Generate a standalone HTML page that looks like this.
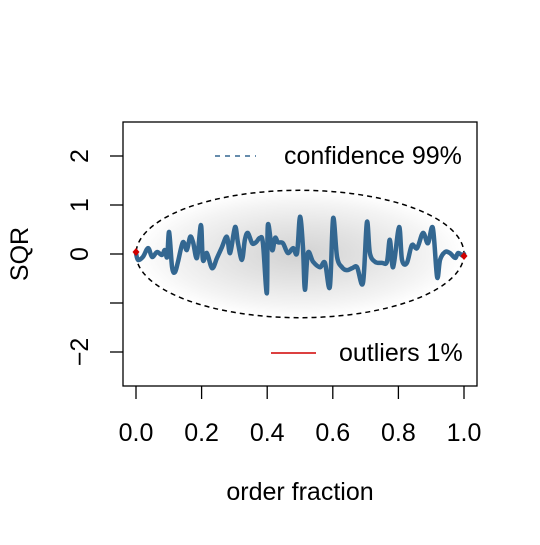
<!DOCTYPE html>
<html><head><meta charset="utf-8"><style>
body{margin:0;background:#fff}
text{font-family:"Liberation Sans",Arial,sans-serif;font-size:25px;fill:#000}
</style></head><body>
<svg id="chart" width="540" height="540" viewBox="0 0 540 540">
<defs>
<radialGradient id="shade" cx="50%" cy="50%" r="50%">
<stop offset="0" stop-color="#d2d2d2"/>
<stop offset="0.45" stop-color="#e4e4e4"/>
<stop offset="0.8" stop-color="#f4f4f4"/>
<stop offset="1" stop-color="#ffffff"/>
</radialGradient>
</defs>
<g id="plot"></g>
</svg>
<script>
const xs=[0,.006,.021,.037,.049,.064,.079,.088,.095,.101,.110,.119,.128,.143,.155,.165,.174,.186,.198,.204,.216,.232,.247,.262,.277,.287,.302,.311,.323,.332,.341,.354,.366,.378,.387,.399,.402,.415,.424,.433,.448,.463,.479,.491,.5,.509,.515,.524,.540,.561,.576,.591,.601,.613,.628,.643,.659,.674,.692,.704,.713,.729,.750,.765,.774,.784,.802,.811,.826,.841,.857,.875,.890,.905,.918,.927,.942,.957,.973,.982,.997,1];
const ys=[.02,-.12,-.06,.12,-.06,.04,-.02,.08,-.06,.45,-.27,-.37,-.16,.24,.08,.35,.24,-.08,.59,-.12,.02,-.29,-.08,.14,.35,.02,.55,.22,-.12,.29,.43,.22,.24,.33,.22,-.8,.59,.08,.33,.24,.22,.02,.12,.02,.76,.14,-.73,.02,-.16,-.27,-.18,-.67,.73,-.06,-.27,-.33,-.29,-.27,-.59,.65,.02,-.16,-.18,-.16,.29,-.27,.55,-.12,-.18,.18,.12,.43,.22,.53,-.47,-.12,.04,.02,-.08,.02,-.04,0];
const outX=[0,1];
const outY=[0.04,-0.04];
const confBound=1.3;
const xTicks=[0,0.2,0.4,0.6,0.8,1.0];
const xTickLabels=["0.0","0.2","0.4","0.6","0.8","1.0"];
const yTicks=[-2,-1,0,1,2];
const yTickLabels=["−2","","0","1","2"];

const X=v=>136+v*328, Y=v=>254-v*49;
const NS="http://www.w3.org/2000/svg";
const g=document.getElementById('plot');
function mk(t,a,txt){const e=document.createElementNS(NS,t);for(const k in a)e.setAttribute(k,a[k]);if(txt!==undefined)e.textContent=txt;g.appendChild(e);return e;}

let e=mk('ellipse',{cx:X(0.5),cy:Y(0),rx:X(1)-X(0.5),ry:Y(0)-Y(confBound),fill:'url(#shade)'});


e=mk('ellipse',{cx:X(0.5),cy:Y(0),rx:X(1)-X(0.5),ry:Y(0)-Y(confBound),fill:'none',stroke:'#000','stroke-width':1.5,'stroke-dasharray':'5,4'});



const P=xs.map((x,i)=>[X(x),Y(ys[i])]);
let d='M'+P[0][0]+','+P[0][1];
for(let i=0;i<P.length-1;i++){
 const p0=P[Math.max(0,i-1)],p1=P[i],p2=P[i+1],p3=P[Math.min(P.length-1,i+2)];
 const c1=[p1[0]+(p2[0]-p0[0])/6,p1[1]+(p2[1]-p0[1])/6];
 const c2=[p2[0]-(p3[0]-p1[0])/6,p2[1]-(p3[1]-p1[1])/6];
 d+=` C${c1[0]},${c1[1]} ${c2[0]},${c2[1]} ${p2[0]},${p2[1]}`;
}
e=mk('path',{d:d,fill:'none',stroke:'#336791','stroke-width':4.5,'stroke-linejoin':'round','stroke-linecap':'round'});



outX.forEach((x,i)=>{const cx=X(x),cy=Y(outY[i]);
 const p=mk('polygon',{points:`${cx},${cy-4} ${cx+3.5},${cy} ${cx},${cy+4} ${cx-3.5},${cy}`,fill:'#d00000'});
 
 
});

e=mk('rect',{x:123,y:122,width:354,height:264,fill:'none',stroke:'#000','stroke-width':1.3});



xTicks.forEach((t,i)=>{
 const l=mk('line',{x1:X(t),x2:X(t),y1:386,y2:399,stroke:'#000','stroke-width':1.3});
 
 
 const tx=mk('text',{x:X(t),y:441,'text-anchor':'middle'},xTickLabels[i]);
 
 
});
yTicks.forEach((t,i)=>{
 const l=mk('line',{x1:110,x2:123,y1:Y(t),y2:Y(t),stroke:'#000','stroke-width':1.3});
 
 
 if(yTickLabels[i]){
 const tx=mk('text',{x:0,y:0,'text-anchor':'middle',transform:`translate(88,${Y(t)}) rotate(-90)`},yTickLabels[i]);
 
 }
});
e=mk('text',{x:300,y:500,'text-anchor':'middle'},'order fraction');


e=mk('text',{x:0,y:0,'text-anchor':'middle',transform:'translate(28,254) rotate(-90)'},'SQR');



e=mk('line',{x1:215,x2:256,y1:156,y2:156,stroke:'#336791','stroke-width':1.5,'stroke-dasharray':'5,5'});


e=mk('text',{x:284,y:164},'confidence 99%');


e=mk('line',{x1:271,x2:316,y1:353,y2:353,stroke:'#d00000','stroke-width':1.5});


e=mk('text',{x:339,y:361},'outliers 1%');


</script>
</body></html>
